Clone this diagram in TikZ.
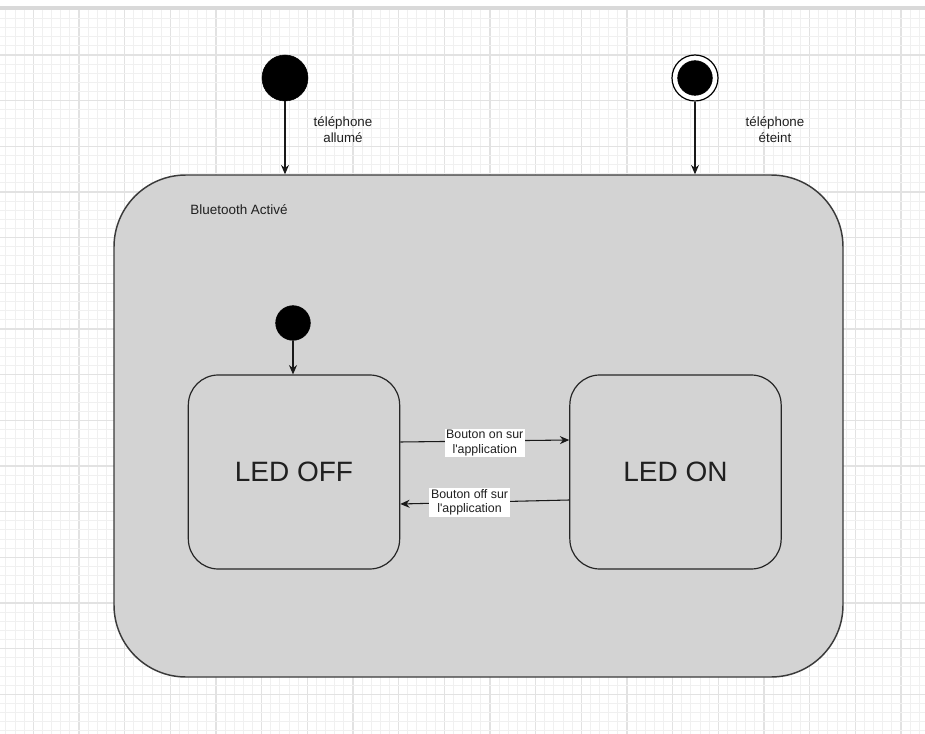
\documentclass[tikz,border=0pt]{standalone}
\usepackage{fontspec}
\setmainfont{Liberation Sans}
\usetikzlibrary{arrows.meta,calc}
\definecolor{boxfill}{HTML}{D3D3D3}
\definecolor{boxline}{HTML}{3A3A3A}
\definecolor{minorgrid}{HTML}{F0F0F0}
\definecolor{majorgrid}{HTML}{E2E2E2}
\definecolor{txt}{HTML}{202020}
\tikzset{
  px/.style={x=0.75pt,y=-0.75pt},
  outerbox/.style={draw=boxline,fill=boxfill,line width=1.1pt,rounded corners=54pt,minimum width=546.75pt,minimum height=376.5pt},
  statebox/.style={draw=black!85,fill=boxfill,line width=0.9pt,rounded corners=22.5pt,minimum width=158.5pt,minimum height=145.5pt,font=\fontsize{21}{24}\selectfont,text=txt},
  initdot/.style={circle,fill=black,draw=black,inner sep=0pt},
  lbl/.style={align=center,font=\fontsize{10}{12}\selectfont,text=txt},
  trlbl/.style={align=center,font=\fontsize{9.3}{11}\selectfont,text=txt,fill=white,inner sep=1.2pt},
  arr/.style={-{Stealth[length=7pt,width=6pt]},line width=0.8pt,draw=black!90},
}
\begin{document}
\begin{tikzpicture}[px]
\useasboundingbox (0,0) rectangle (925,734);
\fill[white] (0,0) rectangle (925,734);
% grid
\begin{scope}
\clip (0,11) rectangle (925,734);
\foreach \k in {-4,...,98}{
  \pgfmathsetmacro\xx{33.33+\k*9.133}
  \pgfmathtruncatemacro\mm{mod(\k+100,5)}
  \ifnum\mm=0 \draw[majorgrid,line width=0.8pt] (\xx,0) -- (\xx,734);
  \else \draw[minorgrid,line width=0.7pt] (\xx,0) -- (\xx,734); \fi
}
\foreach \k in {-6,...,76}{
  \pgfmathsetmacro\yy{55+\k*9.133}
  \pgfmathtruncatemacro\mm{mod(\k+100,5)}
  \ifnum\mm=0 \draw[majorgrid,line width=0.8pt] (0,\yy) -- (925,\yy);
  \else \draw[minorgrid,line width=0.7pt] (0,\yy) -- (925,\yy); \fi
}
\end{scope}
\draw[black!15,line width=2.5pt] (0,8) -- (925,8);

% outer composite state
\node[outerbox] (bt) at (478.5,426) {};
\node[lbl,font=\fontsize{10.1}{12}\selectfont] (btl) at (239,210) {Bluetooth Activé};

% top initial state
\node[initdot,minimum size=34.5pt] (start) at (285,78) {};
\node[lbl] (startl) at (343,130) {téléphone\\allumé};
\draw[arr] (start.south) -- (start.south |- bt.north);

% final state
\node[circle,draw=black,fill=white,line width=0.9pt,minimum size=34.5pt,inner sep=0pt] (fin) at (695,78) {};
\node[initdot,minimum size=26pt] (finin) at (fin.center) {};
\node[lbl] (finl) at (775,130) {téléphone\\éteint};
\draw[arr] (fin.south) -- (fin.south |- bt.north);

% inner states
\node[statebox] (off) at (294,472) {LED OFF};
\node[statebox] (on) at (675.5,472) {LED ON};

% inner initial
\node[initdot,minimum size=26pt] (init) at (293,323) {};
\draw[arr] (init.south) -- (init.south |- off.north);

% transitions
\draw[arr] (off.east |- 0,442) -- node[trlbl,pos=0.5,yshift=-1.5pt] (t1) {Bouton on sur\\l\textquotesingle application} (on.west |- 0,440);
\draw[arr] (on.west |- 0,500) -- node[trlbl,pos=0.59] (t2) {Bouton off sur\\l\textquotesingle application} (off.east |- 0,504);
\end{tikzpicture}
\end{document}
